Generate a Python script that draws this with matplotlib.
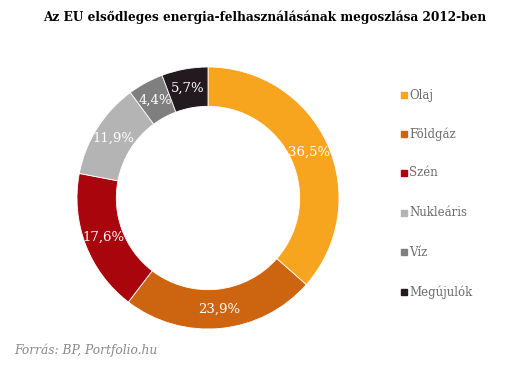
import matplotlib.pyplot as plt
import numpy as np

categories = ["Olaj", "Földgáz", "Szén", "Nukleáris", "Víz", "Megújulók"]
values = [36.5, 23.9, 17.6, 11.9, 4.4, 5.7]
labels = ["36,5%", "23,9%", "17,6%", "11,9%", "4,4%", "5,7%"]
colors = ["#F7A51F", "#CD6410", "#A8060C", "#B4B4B4", "#7F7F7F", "#231A20"]

W, H = 529, 370
fig = plt.figure(figsize=(W / 100, H / 100), dpi=100)
fig.patch.set_facecolor("white")

# donut centre and outer radius in pixels
cx, cy, r = 208, 198, 131
ax = fig.add_axes([(cx - r) / W, (H - cy - r) / H, 2 * r / W, 2 * r / H])

wedges, _ = ax.pie(values, colors=colors, startangle=90, counterclock=False,
                   radius=1.0, wedgeprops=dict(width=0.30, linewidth=0.6, edgecolor="white"))
ax.set_xlim(-1, 1)
ax.set_ylim(-1, 1)
ax.set_aspect("equal")
ax.axis("off")

mid = 1.0 - 0.15
for w, lab in zip(wedges, labels):
    ang = np.deg2rad((w.theta1 + w.theta2) / 2)
    ax.text(mid * np.cos(ang), mid * np.sin(ang), lab, ha="center", va="center",
            color="white", fontsize=9.5, family="DejaVu Serif")

fig.text(0.5, 1 - 17 / H, "Az EU elsődleges energia-felhasználásának megoszlása 2012-ben",
         ha="center", va="center", fontsize=8.7, fontweight="bold",
         family="DejaVu Serif", color="black")

leg_y = [95, 134, 173, 213, 252, 292]
for cat, col, y in zip(categories, colors, leg_y):
    fig.patches.append(plt.Rectangle((401 / W, 1 - (y + 3) / H), 6 / W, 6 / H,
                                     transform=fig.transFigure, color=col))
    fig.text(409 / W, 1 - y / H, cat, ha="left", va="center", fontsize=8.5,
             family="DejaVu Serif", color="#6B6B6B")

fig.text(14 / W, 1 - 350 / H, "Forrás: BP, Portfolio.hu", ha="left", va="center",
         fontsize=8.8, style="italic", family="DejaVu Serif", color="#8A8A8A")

fig.savefig("out.png", dpi=100)
